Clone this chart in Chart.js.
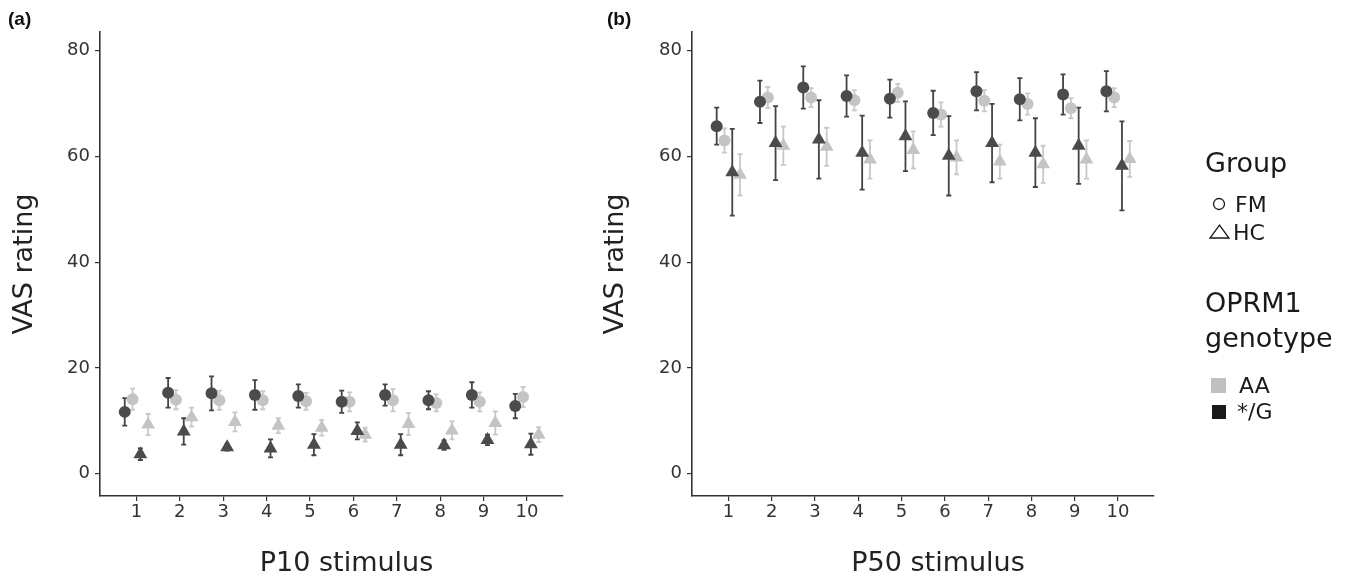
<!DOCTYPE html>
<html>
<head>
<meta charset="utf-8">
<script src="https://cdn.jsdelivr.net/npm/chart.js@4.4.0/dist/chart.umd.min.js"></script>
<style>
  html, body { margin: 0; padding: 0; background: #fff; }
  #wrap { position: relative; width: 1345px; height: 577px; }
  canvas { position: absolute; top: 0; }
</style>
</head>
<body>
<div id="wrap">
  <canvas id="chartA" width="600" height="577" style="left:0"></canvas>
  <canvas id="chartB" width="745" height="577" style="left:600px"></canvas>
</div>
<script>
// stimulus numbers on the x axis
const stimuli = [1, 2, 3, 4, 5, 6, 7, 8, 9, 10];
const yTicks = [0, 20, 40, 60, 80];

// P10 stimulus (panel a): mean VAS and error (+/-)
const p10FmG = [11.7, 15.3, 15.2, 14.9, 14.7, 13.6, 14.9, 13.9, 14.9, 12.8];
const p10FmGErr = [2.6, 2.8, 3.2, 2.8, 2.2, 2.1, 2.0, 1.7, 2.4, 2.3];
const p10FmAA = [14.1, 14.0, 13.9, 13.9, 13.7, 13.6, 13.9, 13.4, 13.6, 14.5];
const p10FmAAErr = [2.0, 1.8, 1.8, 1.7, 1.6, 1.8, 2.1, 1.6, 1.8, 1.9];
const p10HcG = [3.7, 8.0, 5.0, 4.8, 5.5, 8.1, 5.5, 5.4, 6.4, 5.6];
const p10HcGErr = [1.1, 2.5, 0.6, 1.7, 2.0, 1.6, 2.0, 0.9, 1.0, 2.0];
const p10HcAA = [9.3, 10.7, 9.8, 9.1, 8.7, 7.4, 9.4, 8.2, 9.6, 7.4];
const p10HcAAErr = [2.0, 1.8, 1.8, 1.4, 1.5, 1.3, 2.1, 1.7, 2.2, 1.4];

// P50 stimulus (panel b)
const p50FmG = [65.7, 70.3, 73.0, 71.4, 70.9, 68.2, 72.3, 70.8, 71.7, 72.3];
const p50FmGErr = [3.5, 4.0, 4.0, 3.9, 3.6, 4.2, 3.6, 4.0, 3.8, 3.8];
const p50FmAA = [63.0, 71.1, 71.1, 70.6, 72.0, 67.9, 70.5, 69.9, 69.1, 71.1];
const p50FmAAErr = [2.3, 2.0, 1.8, 1.9, 1.7, 2.3, 2.0, 2.0, 1.9, 1.8];
const p50HcG = [57.0, 62.5, 63.2, 60.7, 63.8, 60.1, 62.5, 60.7, 62.0, 58.2];
const p50HcGErr = [8.2, 7.0, 7.4, 7.0, 6.6, 7.5, 7.4, 6.5, 7.2, 8.4];
const p50HcAA = [56.5, 62.0, 61.8, 59.4, 61.2, 59.8, 59.0, 58.5, 59.4, 59.5];
const p50HcAAErr = [3.9, 3.6, 3.6, 3.6, 3.5, 3.2, 3.2, 3.5, 3.6, 3.4];

const DARK = '#4b4b4b';
const LIGHT = '#c4c4c4';
const FONT = 'DejaVu Sans';

// group / genotype combos in dodge order
const seriesStyles = [
  { label: 'FM */G', shape: 'circle', radius: 6, color: DARK, errColor: '#444', dodge: -0.27, order: 0 },
  { label: 'FM AA', shape: 'circle', radius: 6, color: LIGHT, errColor: '#c8c8c8', dodge: -0.09, order: 2 },
  { label: 'HC */G', shape: 'triangle', radius: 8, color: DARK, errColor: '#444', dodge: 0.09, order: 1 },
  { label: 'HC AA', shape: 'triangle', radius: 8, color: LIGHT, errColor: '#c8c8c8', dodge: 0.27, order: 3 }
];

function makeDatasets(means, errs) {
  return seriesStyles.map((st, k) => ({
    label: st.label,
    data: stimuli.map((s, i) => ({ x: s + st.dodge, y: means[k][i] })),
    errors: errs[k],
    errColor: st.errColor,
    pointStyle: st.shape,
    pointRadius: st.radius,
    pointHoverRadius: st.radius,
    backgroundColor: st.color,
    borderColor: st.color,
    borderWidth: 0,
    showLine: false,
    order: st.order
  }));
}

// vertical error bars with small caps, drawn under the points
const errorBars = {
  id: 'errorBars',
  beforeDatasetsDraw(chart) {
    const { ctx, scales: { x, y } } = chart;
    ctx.save();
    const sets = chart.data.datasets.slice().sort((a, b) => b.order - a.order);
    sets.forEach(ds => {
      ctx.strokeStyle = ds.errColor;
      ctx.lineWidth = 1.8;
      ds.data.forEach((p, i) => {
        const px = x.getPixelForValue(p.x);
        const top = y.getPixelForValue(p.y + ds.errors[i]);
        const bot = y.getPixelForValue(p.y - ds.errors[i]);
        ctx.beginPath();
        ctx.moveTo(px, top); ctx.lineTo(px, bot);
        ctx.moveTo(px - 2.5, top); ctx.lineTo(px + 2.5, top);
        ctx.moveTo(px - 2.5, bot); ctx.lineTo(px + 2.5, bot);
        ctx.stroke();
      });
    });
    ctx.restore();
  }
};

// axis titles, panel letters and the legend
function textPlugin(opts) {
  return {
    id: 'texts',
    afterDraw(chart) {
      const { ctx, chartArea } = chart;
      ctx.save();
      ctx.fillStyle = '#111';
      ctx.font = 'bold 19px "Liberation Sans", Arial';
      ctx.textBaseline = 'alphabetic';
      ctx.fillText(opts.letter, opts.letterX, 25);

      ctx.fillStyle = '#222';
      ctx.font = '27px "' + FONT + '"';
      ctx.textAlign = 'center';
      ctx.fillText(opts.xTitle, (chartArea.left + chartArea.right) / 2 + 15, 571);

      ctx.save();
      ctx.translate(opts.yTitleX, (chartArea.top + chartArea.bottom) / 2);
      ctx.rotate(-Math.PI / 2);
      ctx.fillText('VAS rating', 0, 0);
      ctx.restore();

      if (opts.legend) drawLegend(ctx, opts.legend);
      ctx.restore();
    }
  };
}

function drawLegend(ctx, ox) {
  ctx.textAlign = 'left';
  ctx.fillStyle = '#1a1a1a';
  ctx.font = '27px "' + FONT + '"';
  ctx.fillText('Group', 1205 - ox, 172);
  ctx.fillText('OPRM1', 1205 - ox, 312);
  ctx.fillText('genotype', 1205 - ox, 347);

  ctx.font = '22px "' + FONT + '"';
  ctx.fillText('FM', 1235 - ox, 212);
  ctx.fillText('HC', 1233 - ox, 240);
  ctx.fillText('AA', 1239 - ox, 393);
  ctx.fillText('*/G', 1237 - ox, 419);

  ctx.strokeStyle = '#1a1a1a';
  ctx.lineWidth = 1.3;
  ctx.beginPath();
  ctx.arc(1219 - ox, 204, 5.5, 0, Math.PI * 2);
  ctx.stroke();
  ctx.beginPath();
  ctx.moveTo(1210 - ox, 238);
  ctx.lineTo(1229 - ox, 238);
  ctx.lineTo(1219.5 - ox, 225);
  ctx.closePath();
  ctx.stroke();

  ctx.fillStyle = '#c0c0c0';
  ctx.fillRect(1211 - ox, 378, 15, 15);
  ctx.fillStyle = '#1a1a1a';
  ctx.fillRect(1212 - ox, 405, 14, 14);
}

function makeScales(yWidth) {
  const grid = { drawOnChartArea: false, drawTicks: true, tickLength: 5, color: '#333', lineWidth: 1.2 };
  const border = { display: true, color: '#333', width: 1.6 };
  return {
    x: {
      type: 'linear',
      min: 0.16,
      max: 10.83,
      afterBuildTicks: s => { s.ticks = stimuli.map(v => ({ value: v })); },
      afterFit: s => { s.height = 81; },
      grid: grid,
      border: border,
      ticks: { color: '#333', font: { family: FONT, size: 18 }, padding: 1, maxRotation: 0, autoSkip: false }
    },
    y: {
      type: 'linear',
      min: -4.2,
      max: 83.5,
      afterBuildTicks: s => { s.ticks = yTicks.map(v => ({ value: v })); },
      afterFit: s => { s.width = yWidth; },
      grid: grid,
      border: border,
      ticks: { color: '#333', font: { family: FONT, size: 18 }, padding: 5 }
    }
  };
}

function makeChart(id, datasets, opts) {
  return new Chart(document.getElementById(id), {
    type: 'scatter',
    data: { datasets: datasets },
    options: {
      responsive: false,
      animation: false,
      layout: { padding: opts.padding },
      plugins: { legend: { display: false }, tooltip: { enabled: false } },
      scales: makeScales(opts.yWidth)
    },
    plugins: [errorBars, textPlugin(opts)]
  });
}

makeChart('chartA',
  makeDatasets([p10FmG, p10FmAA, p10HcG, p10HcAA], [p10FmGErr, p10FmAAErr, p10HcGErr, p10HcAAErr]),
  { padding: { left: 0, right: 37, top: 32, bottom: 0 }, yWidth: 100, letter: '(a)', letterX: 8,
    xTitle: 'P10 stimulus', yTitleX: 32 });

makeChart('chartB',
  makeDatasets([p50FmG, p50FmAA, p50HcG, p50HcAA], [p50FmGErr, p50FmAAErr, p50HcGErr, p50HcAAErr]),
  { padding: { left: 0, right: 191, top: 32, bottom: 0 }, yWidth: 92, letter: '(b)', letterX: 7,
    xTitle: 'P50 stimulus', yTitleX: 23, legend: 600 });
</script>
</body>
</html>
